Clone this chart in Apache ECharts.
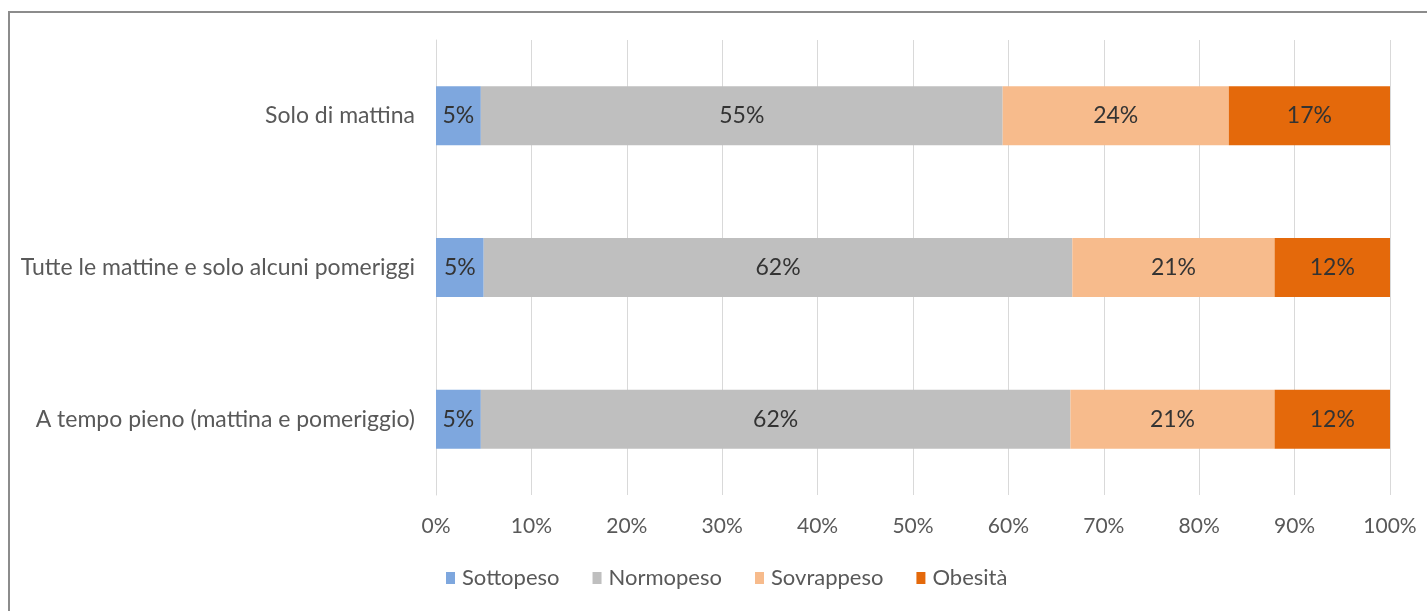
<!DOCTYPE html>
<html><head><meta charset="utf-8">
<script src="https://cdn.jsdelivr.net/npm/echarts@6/dist/echarts.min.js"></script>
<style>html,body{margin:0;padding:0;background:#fff}#c{width:1427px;height:611px}</style>
</head><body><div id="c"></div>
<script>
const categories = ["A tempo pieno (mattina e pomeriggio)", "Tutte le mattine e solo alcuni pomeriggi", "Solo di mattina"];
const sottopeso = [4.7, 5.0, 4.7];
const normopeso = [61.8, 61.7, 54.7];
const sovrappeso = [21.4, 21.2, 23.7];
const obesita = [12.1, 12.1, 16.9];
const seriesNames = ["Sottopeso", "Normopeso", "Sovrappeso", "Obesità"];
const colors = ["#7ea7de", "#bfbfbf", "#f7bb8c", "#e4690b"];
const tickLabels = ["0%","10%","20%","30%","40%","50%","60%","70%","80%","90%","100%"];

const font = "Lato, 'Open Sans', sans-serif";
const chart = echarts.init(document.getElementById('c'), null, {renderer:'canvas'});
const data = [sottopeso, normopeso, sovrappeso, obesita];
chart.setOption({
  animation:false,
  graphic:[{type:'polyline', shape:{points:[[9,620],[9,12],[1430,12]]}, style:{stroke:'#8c8c8c', lineWidth:2, fill:null}, silent:true}],
  grid:{left:436, right:37, top:40, height:455, containLabel:false},
  legend:{top:562, left:441, itemWidth:9, itemHeight:12, itemGap:33, icon:'rect',
    textStyle:{fontFamily:font, fontSize:22, color:'#595959', padding:[0,0,0,2]}, data:seriesNames},
  xAxis:{type:'value', min:0, max:100, interval:10,
    axisLabel:{fontFamily:font, fontSize:21, color:'#595959', margin:21, formatter:(v)=>tickLabels[Math.round(v/10)]},
    splitLine:{lineStyle:{color:'#d9d9d9', width:1}}, axisLine:{show:false}, axisTick:{show:false}},
  yAxis:{type:'category', data:categories,
    axisLabel:{fontFamily:font, fontSize:23, color:'#595959', margin:21},
    axisLine:{lineStyle:{color:'#d9d9d9'}}, axisTick:{show:false}},
  series: seriesNames.map((n,i)=>({
    name:n, type:'bar', stack:'total', barWidth:59, data:data[i],
    itemStyle:{color:colors[i]},
    label:{show:true, position:'inside', fontFamily:font, fontSize:23, color:'#333333',
      formatter:(p)=>Math.round(p.value)+'%'}
  }))
});
</script></body></html>
